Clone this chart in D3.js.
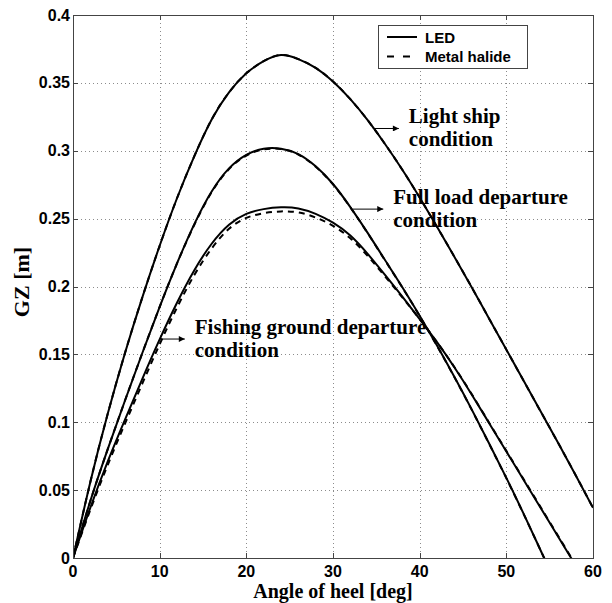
<!DOCTYPE html>
<html>
<head>
<meta charset="utf-8">
<script src="https://cdn.jsdelivr.net/npm/d3@7/dist/d3.min.js"></script>
<style>
  html, body { margin: 0; padding: 0; background: #fff; }
  svg { display: block; }
</style>
</head>
<body>
<svg id="chart" width="612" height="603"></svg>
<script>
// ---------------- DATA ----------------
const angles = [0,2,4,6,8,10,12,14,16,18,20,22,24,26,28,30,32,34,36,38,40,42,44,46,48,50,52,54,56,58,60];

const lightShipLED = [0,0.056,0.106,0.151,0.192,0.230,0.265,0.296,0.323,0.343,0.357,0.366,0.3705,0.3675,0.361,0.351,0.338,0.3225,0.305,0.286,0.2655,0.244,0.222,0.1995,0.1765,0.1535,0.1305,0.1075,0.0845,0.061,0.037];
const lightShipMH  = [0,0.056,0.106,0.151,0.192,0.230,0.265,0.296,0.323,0.343,0.357,0.366,0.3705,0.3675,0.361,0.351,0.338,0.3225,0.305,0.286,0.2655,0.244,0.222,0.1995,0.1765,0.1535,0.1305,0.1075,0.0845,0.061,0.037];

const fullLoadLED = [0,0.042,0.080,0.116,0.151,0.185,0.217,0.246,0.270,0.287,0.297,0.3015,0.3015,0.2975,0.2885,0.2755,0.2585,0.2395,0.2195,0.1995,0.1785,0.1565,0.1335,0.1095,0.0845,0.059,0.0325,0.005,-0.0225,-0.050,-0.078];
const fullLoadMH  = [0,0.042,0.080,0.116,0.151,0.185,0.217,0.2455,0.2695,0.2865,0.2965,0.301,0.3012,0.2972,0.2882,0.2752,0.2583,0.2393,0.2193,0.1993,0.1783,0.1563,0.1333,0.1093,0.0843,0.0588,0.0323,0.005,-0.0225,-0.050,-0.078];

const fishingLED = [0,0.037,0.071,0.102,0.132,0.161,0.188,0.212,0.2315,0.2455,0.2535,0.257,0.2583,0.2575,0.2535,0.247,0.2375,0.224,0.2085,0.1925,0.176,0.159,0.1405,0.1205,0.0995,0.0785,0.0575,0.0365,0.0155,-0.0055,-0.0265];
const fishingMH  = [0,0.0355,0.0685,0.099,0.1285,0.1575,0.1845,0.2085,0.228,0.2425,0.2505,0.254,0.2553,0.2546,0.2508,0.2447,0.2355,0.2225,0.2075,0.192,0.176,0.159,0.1407,0.1208,0.0998,0.0789,0.058,0.037,0.016,-0.005,-0.026];

const xTicks = [0,10,20,30,40,50,60];
const yTicks = [0,0.05,0.1,0.15,0.2,0.25,0.3,0.35,0.4];
const yTickLabels = ["0","0.05","0.1","0.15","0.2","0.25","0.3","0.35","0.4"];

const legendLabels = ["LED","Metal halide"];

// annotations
const annotationLines = [["Light ship","condition"],["Full load departure","condition"],["Fishing ground departure","condition"]];
const arrowTailAngle = [34.6, 32.3, 10.1];
const arrowHeadAngle = [37.6, 35.8, 12.9];
const arrowGZ        = [0.3164, 0.257, 0.1613];

const xLabel = "Angle of heel [deg]";
const yLabel = "GZ [m]";

// ---------------- CHART ----------------
const svg = d3.select("#chart");
const L = 73, R = 593, T = 15, B = 558;

const x = d3.scaleLinear().domain([0,60]).range([L,R]);
const y = d3.scaleLinear().domain([0,0.4]).range([B,T]);
const crisp = v => Math.round(v) + 0.5;

const axisColor = "#444";

// grid
const grid = svg.append("g");
xTicks.slice(1,-1).forEach(t => {
  grid.append("line").attr("x1",crisp(x(t))).attr("x2",crisp(x(t))).attr("y1",T).attr("y2",B)
    .attr("stroke","#8c8c8c").attr("stroke-width",1).attr("stroke-dasharray","1,3");
});
yTicks.slice(1,-1).forEach(t => {
  grid.append("line").attr("x1",L).attr("x2",R).attr("y1",crisp(y(t))).attr("y2",crisp(y(t)))
    .attr("stroke","#8c8c8c").attr("stroke-width",1).attr("stroke-dasharray","1,3");
});

// clip
svg.append("clipPath").attr("id","clip").append("rect")
  .attr("x",L).attr("y",T).attr("width",R-L).attr("height",B-T);

const line = d3.line().x((d,i)=>x(angles[i])).y(d=>y(d)).curve(d3.curveNatural);

const curves = svg.append("g").attr("clip-path","url(#clip)");
[lightShipLED, fullLoadLED, fishingLED].forEach(s => {
  curves.append("path").datum(s).attr("d",line).attr("fill","none")
    .attr("stroke","#000").attr("stroke-width",2);
});
[lightShipMH, fullLoadMH, fishingMH].forEach(s => {
  curves.append("path").datum(s).attr("d",line).attr("fill","none")
    .attr("stroke","#000").attr("stroke-width",2).attr("stroke-dasharray","6,5");
});

// axes box
svg.append("rect").attr("x",L+0.5).attr("y",T+0.5).attr("width",R-L).attr("height",B-T)
  .attr("fill","none").attr("stroke",axisColor).attr("stroke-width",1);

// ticks (inward, all sides)
const tl = 5;
xTicks.forEach(t => {
  const xx = crisp(x(t));
  svg.append("line").attr("x1",xx).attr("x2",xx).attr("y1",B).attr("y2",B-tl).attr("stroke",axisColor);
  svg.append("line").attr("x1",xx).attr("x2",xx).attr("y1",T).attr("y2",T+tl).attr("stroke",axisColor);
});
yTicks.forEach(t => {
  const yy = crisp(y(t));
  svg.append("line").attr("x1",L).attr("x2",L+tl).attr("y1",yy).attr("y2",yy).attr("stroke",axisColor);
  svg.append("line").attr("x1",R).attr("x2",R-tl).attr("y1",yy).attr("y2",yy).attr("stroke",axisColor);
});

// tick labels
const tickFont = "'Liberation Sans', Arial, Helvetica, sans-serif";
svg.append("g").selectAll("text").data(xTicks).join("text")
  .attr("x",d=>x(d)).attr("y",577).attr("text-anchor","middle")
  .attr("font-family",tickFont).attr("font-weight","bold").attr("font-size",16)
  .text(d=>d);
svg.append("g").selectAll("text").data(yTicks).join("text")
  .attr("x",70).attr("y",d=>y(d)+5.5).attr("text-anchor","end")
  .attr("font-family",tickFont).attr("font-weight","bold").attr("font-size",16)
  .text((d,i)=>yTickLabels[i]);

// axis labels
const serif = "'Liberation Serif', 'Times New Roman', Times, serif";
svg.append("text").attr("x",(L+R)/2).attr("y",598).attr("text-anchor","middle")
  .attr("font-family",serif).attr("font-weight","bold").attr("font-size",20).text(xLabel);
svg.append("text").attr("transform","translate(29,282) rotate(-90)").attr("text-anchor","middle")
  .attr("font-family",serif).attr("font-weight","bold").attr("font-size",22).text(yLabel);

// annotations
const defs = svg.append("defs");
defs.append("marker").attr("id","arrowhead").attr("viewBox","0 0 10 10")
  .attr("refX",10).attr("refY",5).attr("markerWidth",8).attr("markerHeight",6)
  .attr("markerUnits","userSpaceOnUse").attr("orient","auto")
  .append("path").attr("d","M0,0 L10,5 L0,10 Z").attr("fill","#000");

annotationLines.forEach((lines,i) => {
  const ax0 = x(arrowTailAngle[i]), ax1 = x(arrowHeadAngle[i]), ay = y(arrowGZ[i]);
  svg.append("line").attr("x1",ax0).attr("x2",ax1).attr("y1",ay).attr("y2",ay)
    .attr("stroke","#000").attr("stroke-width",1).attr("marker-end","url(#arrowhead)");
  const tx = ax1 + 10;
  lines.forEach((ln,j) => {
    svg.append("text").attr("x",tx).attr("y",ay - 5 + j*22.5)
      .attr("font-family",serif).attr("font-weight","bold").attr("font-size",21)
      .attr("fill","#000").text(ln);
  });
});

// legend
const lg = svg.append("g");
lg.append("rect").attr("x",378.5).attr("y",25.5).attr("width",149).attr("height",43)
  .attr("fill","#fff").attr("stroke",axisColor).attr("stroke-width",1);
legendLabels.forEach((lab,i) => {
  const ly = 37 + i*19.5;
  lg.append("line").attr("x1",387).attr("x2",417).attr("y1",ly).attr("y2",ly)
    .attr("stroke","#000").attr("stroke-width",2)
    .attr("stroke-dasharray", i===1 ? "7,9" : null);
  lg.append("text").attr("x",425).attr("y",ly+5.5)
    .attr("font-family",tickFont).attr("font-weight","bold").attr("font-size",15)
    .text(lab);
});
</script>
</body>
</html>
